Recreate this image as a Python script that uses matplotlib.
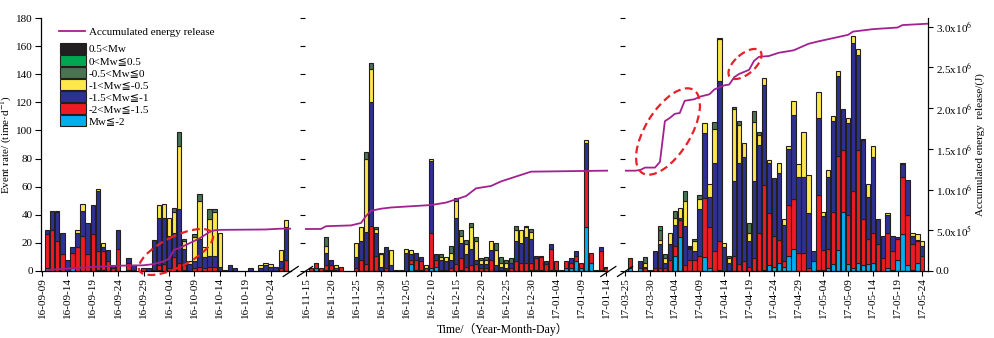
import numpy as np
import pandas as pd
import matplotlib
matplotlib.use('Agg')
import matplotlib.pyplot as plt
import matplotlib.dates as mdates
from matplotlib.patches import Ellipse, Patch
from matplotlib.lines import Line2D
from matplotlib.ticker import FuncFormatter

plt.rcParams['font.family'] = ['Liberation Serif', 'DejaVu Sans', 'Noto Sans CJK SC']
plt.rcParams['mathtext.fontset'] = 'stix'
plt.rcParams['font.size'] = 8

# ---- daily event counts per magnitude class ----
p1_start = '2016-09-09'
p1_cyan = [0,2,0,0,0,0,2,0,0,0, 0,1,1,0,0,0,0,1,1,0, 0,0,0,1,0,0,0,0,1,0,
           0,0,0,0,0,0,0,0,0,0, 0,0,0,0,0,0,0,0,0]
p1_red = [0,24,29,21,12,0,11,17,25,12, 26,13,13,7,2,16,0,5,0,0, 2,0,1,3,5,2,10,6,3,0,
          2,3,2,3,3,0,0,0,0,0, 0,0,0,0,0,0,0,2,8]
p1_navy = [0,3,14,21,15,8,4,10,18,22, 21,43,3,8,2,13,0,3,3,0, 0,2,21,34,33,23,17,38,12,5,
           5,20,8,8,8,3,1,4,2,0, 0,2,0,2,4,3,3,5,23]
p1_yellow = [0,0,0,1,0,0,0,2,5,0, 0,1,3,0,0,0,0,0,0,0, 0,0,0,9,10,13,15,45,5,2,
             17,27,7,26,31,24,0,0,0,0, 0,0,0,2,2,2,0,8,5]
p1_dkgreen = [0,0,0,0,0,0,0,0,0,0, 0,0,0,0,0,0,0,0,0,0, 0,0,0,0,0,0,3,10,2,0,
              2,5,0,7,2,0,0,0,0,0, 0,0,0,0,0,0,0,0,0]

p2_start = '2016-11-15'
p2_cyan = [0,0,2,0,1,1,1,0,0,0, 0,0,0,0,0,0,0,0,0,0, 0,5,1,1,0,2,3,0,0,0,
           0,1,0,0,0,0,0,0,0,0, 0,0,0,0,0,1,1,1,0,1, 1,0,2,2,7,2,31,6,1,1, 0]
p2_red = [0,2,4,2,3,3,1,3,0,0, 2,8,5,32,11,0,2,0,0,0, 0,3,7,6,2,25,5,1,1,2,
          5,8,3,4,5,2,2,8,0,1, 1,2,7,6,6,5,8,9,5,15, 6,1,5,4,4,4,41,7,0,13, 2]
p2_navy = [0,0,0,0,9,4,0,0,0,0, 8,13,23,88,16,3,15,4,0,1, 13,4,5,3,0,51,4,7,6,6,
           33,11,9,12,3,3,3,7,4,2, 1,4,14,14,18,17,2,1,2,3, 0,0,0,3,3,0,19,0,0,3, 1]
p2_yellow = [0,0,0,0,5,0,2,0,0,0, 10,10,52,24,3,9,0,11,0,0, 3,3,0,0,2,2,0,2,3,5,
             12,5,7,15,13,3,3,6,11,3, 4,0,8,9,7,5,0,0,0,0, 0,0,0,0,0,0,2,0,0,0, 0]
p2_dkgreen = [0,0,0,0,6,0,0,0,0,0, 0,0,5,4,1,1,0,0,1,0, 0,0,0,0,0,0,0,2,0,5,
              2,4,3,3,3,1,2,0,5,4, 2,3,3,0,1,2,0,0,0,0, 0,0,0,0,0,0,0,0,0,0, 0]

p3_start = '2017-03-25'
p3_cyan = [0,2,0,2,0,0,0,0,0,0, 11,24,0,0,0,0,10,2,0,1, 0,0,0,0,0,0,0,0,1,4,
           3,6,3,11,16,0,0,0,7,1, 1,2,5,15,42,5,2,6,4,5, 6,0,0,2,1,8,26,4,1,6, 0]
p3_red = [0,7,0,0,2,0,2,2,2,8, 7,12,4,8,8,11,42,29,14,20, 0,0,11,5,7,3,9,27,60,37,
          22,16,4,36,35,13,13,2,0,53, 14,14,37,67,44,35,55,80,33,18, 21,19,9,25,13,15,41,36,18,15, 11]
p3_navy = [0,0,0,5,1,1,12,17,4,11, 15,2,28,8,6,33,46,22,63,114, 17,6,53,72,74,18,55,63,71,36,
           41,48,26,40,60,54,54,39,7,55, 24,51,65,57,29,65,105,68,56,30, 54,18,16,13,11,1,9,25,6,1, 7]
p3_yellow = [0,0,0,0,3,0,0,3,3,8, 5,7,18,0,7,7,7,9,24,30, 3,3,51,27,10,6,42,7,5,2,
             0,7,4,2,10,9,32,27,0,18, 3,5,3,3,0,4,5,4,1,9, 8,0,0,1,0,0,1,0,2,4, 3]
p3_dkgreen = [0,0,0,0,4,0,0,7,3,0, 5,0,7,0,2,3,0,0,5,1, 0,2,2,3,0,7,8,2,0,0,
              0,0,0,0,0,0,0,0,0,0, 0,0,0,0,0,0,0,0,0,0, 0,0,0,0,0,0,0,0,0,0, 0]
p3_green = [0,0,0,0,0,0,0,3,0,0] + [0] * 51
p3_black = [0,0,0,0,0,0,0,0,0,0, 0,0,0,2,0,0,0,0,0,0] + [0] * 41

# ---- accumulated energy release (10^6 J) ----
p1_e_dates = ['2016-09-10', '2016-09-14', '2016-09-19', '2016-09-24', '2016-09-29', '2016-10-01',
              '2016-10-03', '2016-10-04', '2016-10-05', '2016-10-06', '2016-10-07', '2016-10-08',
              '2016-10-09', '2016-10-10', '2016-10-11', '2016-10-12', '2016-10-13', '2016-10-14',
              '2016-10-23', '2016-10-26', '2016-10-28']
p1_e_vals = [0.012, 0.03, 0.05, 0.065, 0.07, 0.085, 0.12, 0.15, 0.26, 0.28, 0.31, 0.34,
             0.37, 0.40, 0.44, 0.48, 0.50, 0.505, 0.51, 0.52, 0.52]
p2_e_dates = ['2016-11-14', '2016-11-18', '2016-11-19', '2016-11-24', '2016-11-26', '2016-11-27',
              '2016-11-28', '2016-11-30', '2016-12-02', '2016-12-10', '2016-12-11', '2016-12-13',
              '2016-12-15', '2016-12-17', '2016-12-19', '2016-12-22', '2016-12-24', '2016-12-26',
              '2016-12-30', '2017-01-04', '2017-01-15']
p2_e_vals = [0.516, 0.516, 0.55, 0.56, 0.59, 0.675, 0.74, 0.765, 0.78, 0.81, 0.82, 0.84,
             0.88, 0.92, 1.015, 1.044, 1.10, 1.14, 1.22, 1.224, 1.233]
p3_e_dates = ['2017-03-24', '2017-03-27', '2017-03-28', '2017-03-29', '2017-03-31', '2017-04-01',
              '2017-04-02', '2017-04-03', '2017-04-04', '2017-04-05', '2017-04-06', '2017-04-08',
              '2017-04-09', '2017-04-11', '2017-04-12', '2017-04-14', '2017-04-15', '2017-04-16',
              '2017-04-17', '2017-04-19', '2017-04-20', '2017-04-21', '2017-04-23', '2017-04-25',
              '2017-04-28', '2017-05-01', '2017-05-03', '2017-05-06', '2017-05-09', '2017-05-10',
              '2017-05-14', '2017-05-19', '2017-05-20', '2017-05-26']
p3_e_vals = [1.232, 1.232, 1.24, 1.27, 1.27, 1.34, 1.84, 1.88, 1.93, 1.94, 2.09, 2.11,
             2.14, 2.17, 2.23, 2.28, 2.29, 2.38, 2.42, 2.47, 2.58, 2.63, 2.64, 2.68,
             2.71, 2.79, 2.82, 2.86, 2.90, 2.94, 2.97, 2.99, 3.02, 3.04]

labels = ['0.5<Mw', '0<Mw≦0.5', '-0.5<Mw≦0', '-1<Mw≦-0.5', '-1.5<Mw≦-1', '-2<Mw≦-1.5', 'Mw≦-2']
# stacking order bottom -> top
colors = ['#00AEEF', '#ED1C24', '#2E3192', '#FDE84B', '#4A7352', '#00A651', '#231F20']
edge = '#231F20'
purple = '#A3208F'

W, H = 994, 338
fig = plt.figure(figsize=(W / 100, H / 100), dpi=100)
Y_TOP, Y_BOT = 18, 271

panels = [
    dict(start=p1_start, px=(41.3, 290.7), ref=42.0, ppd=5.08,
         cls=[p1_cyan, p1_red, p1_navy, p1_yellow, p1_dkgreen],
         e=(p1_e_dates, p1_e_vals)),
    dict(start=p2_start, px=(305.0, 608.3), ref=306.0, ppd=5.0,
         cls=[p2_cyan, p2_red, p2_navy, p2_yellow, p2_dkgreen],
         e=(p2_e_dates, p2_e_vals)),
    dict(start=p3_start, px=(625.0, 928.3), ref=625.3, ppd=4.95,
         cls=[p3_cyan, p3_red, p3_navy, p3_yellow, p3_dkgreen, p3_green, p3_black],
         e=(p3_e_dates, p3_e_vals)),
]

def efmt(v, pos):
    if v <= 0:
        return '0.0'
    e = int(np.floor(np.log10(v) + 1e-9))
    return f'{v / 10**e:.1f}x10$^{{{e}}}$'

axes = []
for i, p in enumerate(panels):
    x0, x1 = p['px']
    ax = fig.add_axes([x0 / W, 1 - Y_BOT / H, (x1 - x0) / W, (Y_BOT - Y_TOP) / H])
    n = len(p['cls'][0])
    days = pd.date_range(p['start'], periods=n, freq='D')
    x = mdates.date2num(days)
    d0 = mdates.date2num(pd.Timestamp(p['start']))
    xl = (d0 + (x0 - p['ref']) / p['ppd'], d0 + (x1 - p['ref']) / p['ppd'])

    bottom = np.zeros(n)
    for vals, col in zip(p['cls'], colors):
        v = np.asarray(vals, float)
        m = v > 0
        ax.bar(x[m], v[m], bottom=bottom[m], width=0.88, color=col,
               edgecolor=edge, linewidth=0.8, zorder=2)
        bottom += v

    ax.set_xlim(*xl)
    ax.set_ylim(0, 180)
    ticks = pd.date_range(p['start'], mdates.num2date(xl[1]).strftime('%Y-%m-%d'), freq='5D')
    ax.set_xticks(mdates.date2num(ticks))
    ax.xaxis.set_major_formatter(mdates.DateFormatter('%y-%m-%d'))
    ax.tick_params(axis='x', rotation=90, length=3.4, width=0.8, pad=1, labelsize=8)
    for s in ['top', 'right']:
        ax.spines[s].set_visible(False)
    ax.spines['bottom'].set_linewidth(0.9)
    if i == 0:
        ax.set_yticks(np.arange(0, 181, 20))
        ax.tick_params(axis='y', length=4.5, width=0.8, pad=1.5, labelsize=8)
        ax.spines['left'].set_linewidth(0.9)
        ax.set_ylabel('Event rate/ (time·d$^{-1}$)', fontsize=8, labelpad=1.5)
    else:
        ax.spines['left'].set_visible(False)
        ax.tick_params(axis='y', left=False, labelleft=False)

    tw = ax.twinx()
    tw.set_ylim(0, 3.107e6)
    ed = mdates.date2num(pd.to_datetime(p['e'][0]))
    tw.plot(ed, np.asarray(p['e'][1]) * 1e6, color=purple, lw=1.3, zorder=3)
    for s in ['top', 'left', 'bottom']:
        tw.spines[s].set_visible(False)
    if i == 2:
        tw.set_yticks(np.arange(0, 3.01e6, 0.5e6))
        tw.yaxis.set_major_formatter(FuncFormatter(efmt))
        tw.tick_params(axis='y', length=3.6, width=0.8, pad=2, labelsize=8)
        tw.spines['right'].set_linewidth(0.9)
        tw.set_ylabel('Accumulated energy  release/(J)', fontsize=8, labelpad=2)
    else:
        tw.spines['right'].set_visible(False)
        tw.tick_params(axis='y', right=False, labelright=False)
    axes.append(ax)

fig.text(503 / W, 1 - 329 / H, 'Time/（Year-Month-Day）', ha='center', va='center', fontsize=8.5)

ax1 = axes[0]
leg1 = ax1.legend([Line2D([], [], color=purple, lw=1.3)], ['Accumulated energy release'],
                  loc='center left', bbox_to_anchor=(59.3 / W, 1 - 32.3 / H),
                  bbox_transform=fig.transFigure, frameon=False, borderpad=0,
                  borderaxespad=0, handlelength=2.3, handletextpad=0.33, fontsize=8)
ax1.add_artist(leg1)
handles = [Patch(facecolor=c, edgecolor=edge, linewidth=0.8) for c in colors[::-1]]
ax1.legend(handles, labels, loc='upper left', bbox_to_anchor=(60 / W, 1 - 43.3 / H),
           bbox_transform=fig.transFigure, frameon=False, borderpad=0, borderaxespad=0,
           handlelength=2.32, handleheight=1.12, labelspacing=0.07, handletextpad=0.27,
           fontsize=8)

# overlay in pixel units for break marks and highlighted ellipses
ov = fig.add_axes([0, 0, 1, 1], zorder=10)
ov.set_xlim(0, W)
ov.set_ylim(H, 0)
ov.axis('off')
ov.patch.set_alpha(0)
edges = [panels[0]['px'][1], panels[1]['px'][0], panels[1]['px'][1], panels[2]['px'][0]]
for ex in edges:
    ov.plot([ex - 7.5, ex + 7.5], [Y_BOT + 5.5, Y_BOT - 4.5], color='black', lw=0.9)

ell_style = dict(fill=False, edgecolor='#E8202A', lw=1.6, linestyle=(0, (3.5, 2)))
ov.add_patch(Ellipse((176, 252), 82, 30.4, angle=-26.9, **ell_style))
ov.add_patch(Ellipse((668, 131.5), 97.6, 45, angle=-58.4, **ell_style))
ov.add_patch(Ellipse((745, 64), 40, 20, angle=-40.5, **ell_style))

fig.savefig('out.png', dpi=100)
